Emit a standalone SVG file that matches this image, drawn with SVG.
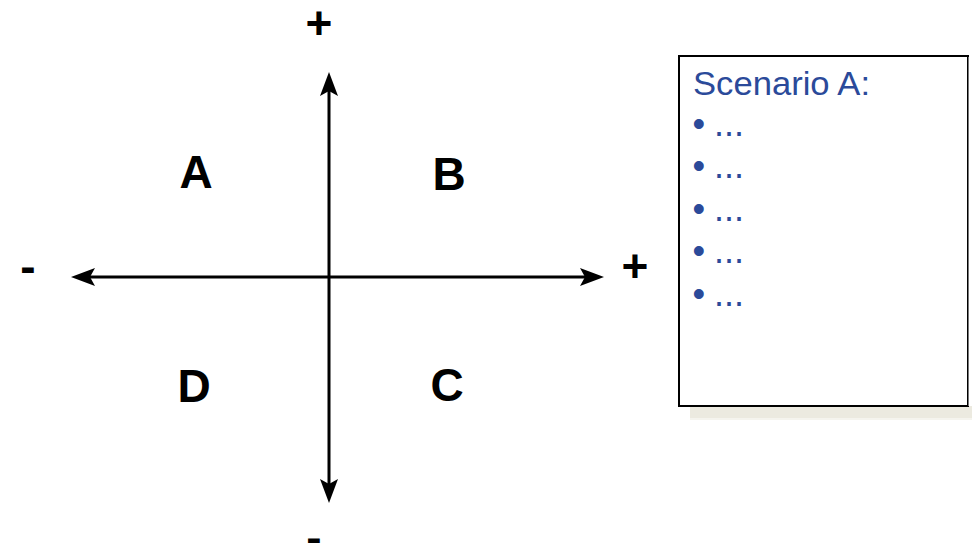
<svg xmlns="http://www.w3.org/2000/svg" width="972" height="543" viewBox="0 0 972 543">
<style>
.ax{stroke:#000;stroke-width:3;fill:none}
.q{font-family:"Liberation Sans",Arial,sans-serif;font-weight:bold;font-size:46px;fill:#000;text-anchor:middle}
.s{font-family:"Liberation Sans",Arial,sans-serif;font-weight:bold;font-size:46px;fill:#000;text-anchor:middle}
.t{font-family:"Liberation Sans",Arial,sans-serif;fill:#2B4A9A}
.b{font-size:36px}
.e{font-size:36px}
</style>
<defs>
<marker id="ah" markerUnits="userSpaceOnUse" viewBox="-8 -10 30 20" refX="0" refY="0" markerWidth="30" markerHeight="20" orient="auto-start-reverse">
<path d="M19,0 L-5,-9 L0,0 L-5,9 Z" fill="#000"/>
</marker>
</defs>
<rect width="972" height="543" fill="#fff"/>
<g id="connectors">
<line class="ax" x1="329" y1="91" x2="329" y2="484" marker-start="url(#ah)" marker-end="url(#ah)"/>
<line class="ax" x1="90" y1="277" x2="585" y2="277" marker-start="url(#ah)" marker-end="url(#ah)"/>
</g>
<g id="signs">
<text class="s" x="319" y="39">+</text>
<text class="s" x="635" y="282">+</text>
<text class="s" x="28" y="282">-</text>
<text class="s" x="314" y="553">-</text>
</g>
<g id="quadA"><text class="q" x="196" y="188">A</text></g>
<g id="quadB"><text class="q" x="449" y="190">B</text></g>
<g id="quadC"><text class="q" x="447" y="401">C</text></g>
<g id="quadD"><text class="q" x="194" y="402">D</text></g>
<g id="scenario">
<rect x="690" y="406" width="282" height="12" fill="#ECEAE0"/>
<rect x="690" y="418" width="282" height="2" fill="#F5F4EE"/>
<rect x="679" y="56" width="289" height="350" fill="#fff" stroke="#000" stroke-width="2"/>
<line x1="968.5" y1="57" x2="968.5" y2="406" stroke="#777" stroke-width="1"/>
<text class="t" x="693" y="95" font-size="34" textLength="177" lengthAdjust="spacingAndGlyphs">Scenario A:</text>
<g class="t">
<text class="b" x="692.5" y="135.5">•</text><text class="e" x="714" y="135.5">...</text>
<text class="b" x="692.5" y="178">•</text><text class="e" x="714" y="178">...</text>
<text class="b" x="692.5" y="220.5">•</text><text class="e" x="714" y="220.5">...</text>
<text class="b" x="692.5" y="263">•</text><text class="e" x="714" y="263">...</text>
<text class="b" x="692.5" y="305.5">•</text><text class="e" x="714" y="305.5">...</text>
</g>
</g>
</svg>
